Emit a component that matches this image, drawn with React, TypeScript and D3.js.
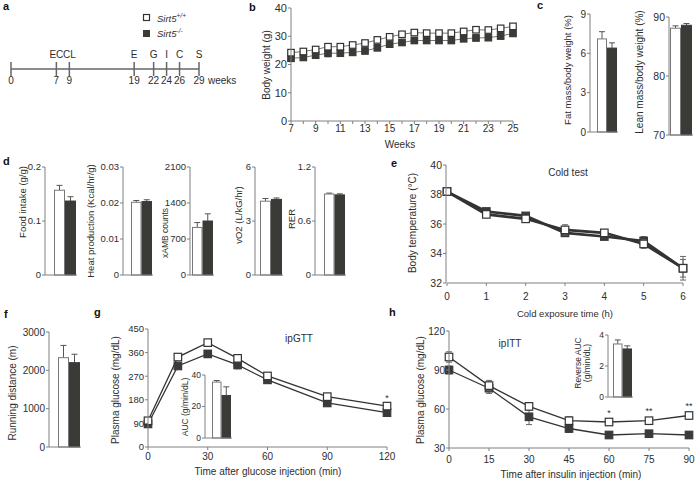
import React from 'react';
import * as d3 from 'd3';

// ---- data ----
const genotypes = ['Sirt5+/+', 'Sirt5-/-'];

const timelineWeeks = [0, 7, 9, 19, 22, 24, 26, 29];
const timelineEvents = ['', 'EC', 'CL', 'E', 'G', 'I', 'C', 'S'];

const bwWeeks = [7, 8, 9, 10, 11, 12, 13, 14, 15, 16, 17, 18, 19, 20, 21, 22, 23, 24, 25];
const bwWT = [24.2, 24.6, 25.3, 26.3, 26.3, 26.9, 27.6, 28.7, 29.8, 30.7, 31.3, 31.1, 31.1, 31.1, 31.7, 32.3, 32.2, 32.8, 33.5];
const bwWTErr = [0.9, 0.8, 0.9, 0.8, 0.9, 0.9, 0.8, 1.0, 0.9, 0.8, 0.9, 0.9, 0.8, 0.9, 0.8, 1.0, 0.8, 0.8, 0.8];
const bwKO = [22.2, 22.5, 23.3, 24.0, 24.0, 24.3, 24.8, 25.9, 27.2, 27.8, 28.5, 28.5, 28.5, 28.5, 29.1, 29.4, 29.5, 30.1, 31.0];
const bwKOErr = [1.1, 0.9, 1.0, 1.3, 0.9, 0.9, 1.0, 0.9, 0.8, 0.8, 0.9, 1.0, 0.9, 0.9, 0.9, 1.0, 0.9, 1.2, 0.8];

const fatMass = [7.1, 6.4];
const fatMassErr = [0.55, 0.4];
const leanMass = [88.1, 88.6];
const leanMassErr = [0.4, 0.3];

const foodIntake = [0.157, 0.137];
const foodIntakeErr = [0.009, 0.008];
const heatProduction = [0.0202, 0.0204];
const heatProductionErr = [0.0005, 0.0005];
const xambCounts = [925, 1050];
const xambCountsErr = [95, 140];
const vo2 = [4.1, 4.2];
const vo2Err = [0.15, 0.08];
const rer = [0.9, 0.89];
const rerErr = [0.01, 0.012];

const coldHours = [0, 1, 2, 3, 4, 5, 6];
const coldWT = [38.2, 36.65, 36.35, 35.6, 35.4, 34.65, 33.0];
const coldWTErr = [0.15, 0.2, 0.15, 0.35, 0.2, 0.3, 0.8];
const coldKO = [38.2, 36.85, 36.55, 35.4, 35.15, 34.85, 33.0];
const coldKOErr = [0.15, 0.2, 0.15, 0.2, 0.2, 0.3, 0.6];

const runningDistance = [2330, 2200];
const runningDistanceErr = [320, 220];

const gttTimes = [0, 15, 30, 45, 60, 90, 120];
const gttWT = [100, 343, 398, 338, 271, 192, 156];
const gttWTErr = [10, 8, 8, 12, 8, 10, 8];
const gttKO = [88, 309, 355, 313, 256, 168, 131];
const gttKOErr = [8, 8, 12, 15, 10, 10, 6];
const gttStars = ['', '', '', '', '', '', '*'];
const gttAUC = [35.5, 27];
const gttAUCErr = [1, 5.5];

const ittTimes = [0, 15, 30, 45, 60, 75, 90];
const ittWT = [100, 78, 62, 51, 50, 51, 55];
const ittWTErr = [4, 4, 3, 3, 2, 2.5, 2.5];
const ittKO = [90, 76, 54, 45, 40, 41, 40];
const ittKOErr = [3, 4, 6, 3, 2, 2, 2.5];
const ittStars = ['', '', '', '', '*', '**', '**'];
const ittRevAUC = [3.42, 3.1];
const ittRevAUCErr = [0.26, 0.2];

// ---- style ----
const FONT = '"Liberation Sans", Arial, Helvetica, sans-serif';
const AXIS = '#808080';
const DARK = '#3a3a36';
const TXT = '#2e2e2e';

function YAxis({ x, y, ticks, fontSize = 9.5 }: any) {
  const [y0, y1] = y.range();
  return (
    <g>
      <line x1={x} x2={x} y1={y0} y2={y1} stroke={AXIS} />
      {ticks.map((t: number, i: number) => (
        <g key={i}>
          <line x1={x - 3} x2={x} y1={y(t)} y2={y(t)} stroke={AXIS} />
          <text x={x - 4} y={y(t)} dy="0.35em" textAnchor="end" fontSize={fontSize}>{String(t)}</text>
        </g>
      ))}
    </g>
  );
}

function XAxis({ y, x, ticks, labels, fontSize = 9.5, labelY }: any) {
  const [x0, x1] = x.range();
  return (
    <g>
      <line x1={x0} x2={x1} y1={y} y2={y} stroke={AXIS} />
      {ticks.map((t: number, i: number) => (
        <line key={i} x1={x(t)} x2={x(t)} y1={y} y2={y + 3} stroke={AXIS} />
      ))}
      {labels.map((t: number, i: number) => (
        <text key={i} x={x(t)} y={labelY} textAnchor="middle" fontSize={fontSize}>{String(t)}</text>
      ))}
    </g>
  );
}

function VLabel({ x, y, text, fontSize = 9.5 }: any) {
  return (
    <text transform={`translate(${x},${y}) rotate(-90)`} textAnchor="middle" fontSize={fontSize}>{text}</text>
  );
}

function BarChart({ lay, values, errs, domain, ticks, label, tickSize = 9.5, labelSize = 9.5, label2 }: any) {
  const y = d3.scaleLinear().domain(domain).range([lay.bottom, lay.top]);
  const x = d3.scaleBand<string>().domain(genotypes).range([lay.axisX + lay.gap, lay.axisX + lay.gap + 2 * lay.barW]);
  const base = y(domain[0]);
  return (
    <g>
      {genotypes.map((g, i) => {
        const bx = x(g) as number;
        const cx = bx + x.bandwidth() / 2;
        const top = y(values[i]);
        const et = y(values[i] + errs[i]);
        return (
          <g key={g}>
            <line x1={cx} x2={cx} y1={top} y2={et} stroke="#555" />
            <line x1={cx - 3} x2={cx + 3} y1={et} y2={et} stroke="#555" />
            <rect x={bx + 0.5} y={top} width={x.bandwidth() - 1} height={base - top}
              fill={i ? DARK : '#fff'} stroke={i ? DARK : '#777'} />
          </g>
        );
      })}
      <line x1={lay.axisX} x2={lay.axisX + lay.gap + 2 * lay.barW + 1} y1={base} y2={base} stroke={AXIS} />
      <YAxis x={lay.axisX} y={y} ticks={ticks} fontSize={tickSize} />
      {label2 ? (
        <g>
          <VLabel x={lay.labelX} y={lay.labelY} text={label} fontSize={labelSize} />
          <VLabel x={lay.labelX + 9} y={lay.labelY} text={label2} fontSize={labelSize} />
        </g>
      ) : (
        <VLabel x={lay.labelX} y={lay.labelY} text={label} fontSize={labelSize} />
      )}
    </g>
  );
}

function Series({ x, y, xs, vals, errs, open, lineColor, lineWidth, size, errColor = '#666', drawLine = true, drawMarks = true }: any) {
  const line = d3.line<number>().x((_, i) => x(xs[i])).y((d) => y(d));
  return (
    <g>
      {drawLine && <path d={line(vals) || ''} fill="none" stroke={lineColor} strokeWidth={lineWidth} />}
      {drawMarks && vals.map((v: number, i: number) => {
        const cx = x(xs[i]);
        const hi = y(v + errs[i]);
        const lo = y(v - errs[i]);
        return (
          <g key={i}>
            <line x1={cx} x2={cx} y1={hi} y2={lo} stroke={errColor} />
            <line x1={cx - 3} x2={cx + 3} y1={hi} y2={hi} stroke={errColor} />
            <line x1={cx - 3} x2={cx + 3} y1={lo} y2={lo} stroke={errColor} />
            <rect x={cx - size / 2} y={y(v) - size / 2} width={size} height={size}
              fill={open ? '#fff' : DARK} stroke={open ? '#333' : DARK} strokeWidth={1.2} />
          </g>
        );
      })}
    </g>
  );
}

function LineChart({ x, y, xs, wt, wtErr, ko, koErr, lineColor, lineWidth, size }: any) {
  const common = { x, y, xs, lineColor, lineWidth, size };
  return (
    <g>
      <Series {...common} vals={ko} errs={koErr} open={false} drawMarks={false} />
      <Series {...common} vals={wt} errs={wtErr} open={true} drawMarks={false} />
      <Series {...common} vals={ko} errs={koErr} open={false} drawLine={false} />
      <Series {...common} vals={wt} errs={wtErr} open={true} drawLine={false} />
    </g>
  );
}

// ---- layout ----
const cFatLay = { axisX: 590, top: 14, bottom: 132, gap: 7, barW: 10, labelX: 571, labelY: 70 };
const cLeanLay = { axisX: 669, top: 17, bottom: 135, gap: 1, barW: 11, labelX: 643, labelY: 72 };
const dLays = [
  { axisX: 45, top: 167, bottom: 275, gap: 9, barW: 11, labelX: 26, labelY: 202 },
  { axisX: 123, top: 167, bottom: 275, gap: 8, barW: 10.5, labelX: 94, labelY: 221 },
  { axisX: 190, top: 167, bottom: 275, gap: 2, barW: 10.5, labelX: 168, labelY: 233 },
  { axisX: 255, top: 167, bottom: 275, gap: 5, barW: 11, labelX: 242, labelY: 215 },
  { axisX: 315, top: 167, bottom: 275, gap: 9, barW: 10.5, labelX: 295, labelY: 219 },
];
const fLay = { axisX: 49, top: 332, bottom: 447, gap: 9, barW: 11, labelX: 16, labelY: 393 };
const gInsetLay = { axisX: 205, top: 375, bottom: 438, gap: 7, barW: 9.5, labelX: 188, labelY: 407 };
const hInsetLay = { axisX: 608, top: 335, bottom: 397, gap: 5, barW: 9.5, labelX: 581, labelY: 363 };

export default function App() {
  const tl = d3.scaleLinear().domain([0, 29]).range([11, 199]);

  const bx = d3.scaleLinear().domain([7, 25]).range([291, 513]);
  const by = d3.scaleLinear().domain([0, 40]).range([121, 8]);

  const ex = d3.scaleLinear().domain([0, 6]).range([447, 683]);
  const ey = d3.scaleLinear().domain([32, 40]).range([283, 165]);

  const gx = d3.scaleLinear().domain([0, 120]).range([148, 387]);
  const gy = d3.scaleLinear().domain([0, 450]).range([447, 329]);

  const hx = d3.scaleLinear().domain([0, 90]).range([449, 689]);
  const hy = d3.scaleLinear().domain([30, 120]).range([448, 331]);

  const letter = (t: string, x: number, y: number) => (
    <text x={x} y={y} fontSize={11} fontWeight="bold" fill="#111">{t}</text>
  );

  return (
    <svg width={698} height={484} style={{ position: 'absolute', left: 0, top: 0, background: '#fff' }}
      fontFamily={FONT} fill={TXT}>
      {/* a */}
      {letter('a', 3, 10)}
      <rect x={143.5} y={14.5} width={6} height={6} fill="#fff" stroke="#333" strokeWidth={1.2} />
      <text x={157} y={21.5} fontSize={9.5} fontStyle="italic">Sirt5<tspan fontSize={6.5} dy={-4}>+/+</tspan></text>
      <rect x={143} y={30} width={7} height={7} fill={DARK} />
      <text x={157} y={36.5} fontSize={9.5} fontStyle="italic">Sirt5<tspan fontSize={6.5} dy={-4}>-/-</tspan></text>
      <line x1={tl(0)} x2={tl(29)} y1={69} y2={69} stroke="#666" strokeWidth={1.5} />
      {timelineWeeks.map((w, i) => (
        <g key={w}>
          <line x1={tl(w)} x2={tl(w)} y1={62} y2={76} stroke="#666" strokeWidth={1.5} />
          <text x={tl(w)} y={58} textAnchor="middle" fontSize={10}>{timelineEvents[i]}</text>
          <text x={tl(w)} y={84} textAnchor="middle" fontSize={10}>{String(w)}</text>
        </g>
      ))}
      <text x={tl(29) + 9} y={84} fontSize={10}>weeks</text>

      {/* b */}
      {letter('b', 249, 11)}
      <LineChart x={bx} y={by} xs={bwWeeks} wt={bwWT} wtErr={bwWTErr} ko={bwKO} koErr={bwKOErr}
        lineColor="#666" lineWidth={0.9} size={6.5} />
      <YAxis x={291} y={by} ticks={[0, 10, 20, 30, 40]} fontSize={11} />
      <XAxis y={121} x={bx} ticks={bwWeeks} labels={bwWeeks.filter((w) => w % 2 === 1)} labelY={132} fontSize={10} />
      <VLabel x={270} y={65} text="Body weight (g)" fontSize={10} />
      <text x={400} y={148} textAnchor="middle" fontSize={10}>Weeks</text>

      {/* c */}
      {letter('c', 537, 9)}
      <BarChart lay={cFatLay} values={fatMass} errs={fatMassErr} domain={[0, 9]} ticks={[0, 3, 6, 9]}
        label="Fat mass/body weight (%)" tickSize={10} />
      <BarChart lay={cLeanLay} values={leanMass} errs={leanMassErr} domain={[70, 90]} ticks={[70, 80, 90]}
        label="Lean mass/body weight (%)" tickSize={10.5} labelSize={10} />

      {/* d */}
      {letter('d', 3, 165)}
      <BarChart lay={dLays[0]} values={foodIntake} errs={foodIntakeErr} domain={[0, 0.2]} ticks={[0, 0.1, 0.2]}
        label="Food intake (g/g)" />
      <BarChart lay={dLays[1]} values={heatProduction} errs={heatProductionErr} domain={[0, 0.03]}
        ticks={[0, 0.01, 0.02, 0.03]} label="Heat production (Kcal/hr/g)" />
      <BarChart lay={dLays[2]} values={xambCounts} errs={xambCountsErr} domain={[0, 2100]}
        ticks={[0, 700, 1400, 2100]} label="xAMB counts" labelSize={8.5} />
      <BarChart lay={dLays[3]} values={vo2} errs={vo2Err} domain={[0, 6]} ticks={[0, 3, 6]}
        label="vO2 (L/kG/hr)" />
      <BarChart lay={dLays[4]} values={rer} errs={rerErr} domain={[0, 1.2]} ticks={[0, 0.6, 1.2]}
        label="RER" />

      {/* e */}
      {letter('e', 391, 167)}
      <LineChart x={ex} y={ey} xs={coldHours} wt={coldWT} wtErr={coldWTErr} ko={coldKO} koErr={coldKOErr}
        lineColor="#333" lineWidth={2.6} size={7.5} />
      <YAxis x={446} y={ey} ticks={[32, 34, 36, 38, 40]} fontSize={10.5} />
      <XAxis y={283} x={ex} ticks={coldHours} labels={coldHours} labelY={300} fontSize={10} />
      <VLabel x={416} y={223} text="Body temperature (°C)" fontSize={10} />
      <text x={568} y={176} textAnchor="middle" fontSize={10}>Cold test</text>
      <text x={565} y={317} textAnchor="middle" fontSize={9.5}>Cold exposure time (h)</text>

      {/* f */}
      {letter('f', 4, 318)}
      <BarChart lay={fLay} values={runningDistance} errs={runningDistanceErr} domain={[0, 3000]}
        ticks={[0, 1000, 2000, 3000]} label="Running distance (m)" tickSize={10} labelSize={10} />

      {/* g */}
      {letter('g', 94, 316)}
      <LineChart x={gx} y={gy} xs={gttTimes} wt={gttWT} wtErr={gttWTErr} ko={gttKO} koErr={gttKOErr}
        lineColor="#333" lineWidth={1.3} size={7.5} />
      <YAxis x={148} y={gy} ticks={[0, 90, 180, 270, 360, 450]} fontSize={9.5} />
      <XAxis y={447} x={gx} ticks={[0, 30, 60, 90, 120]} labels={[0, 30, 60, 90, 120]} labelY={460} fontSize={10} />
      <VLabel x={119} y={390} text="Plasma glucose (mg/dL)" fontSize={10} />
      {gttStars.map((s, i) => s && (
        <text key={i} x={gx(gttTimes[i])} y={gy(gttWT[i] + gttWTErr[i]) - 3} textAnchor="middle" fontSize={9}>{s}</text>
      ))}
      <text x={299} y={342} textAnchor="middle" fontSize={10}>ipGTT</text>
      <text x={268} y={475} textAnchor="middle" fontSize={10}>Time after glucose injection (min)</text>
      <BarChart lay={gInsetLay} values={gttAUC} errs={gttAUCErr} domain={[0, 40]} ticks={[0, 20, 40]}
        label="AUC (g/min/dL)" tickSize={8.5} labelSize={8.5} />

      {/* h */}
      {letter('h', 389, 316)}
      <LineChart x={hx} y={hy} xs={ittTimes} wt={ittWT} wtErr={ittWTErr} ko={ittKO} koErr={ittKOErr}
        lineColor="#333" lineWidth={1.3} size={7.5} />
      <YAxis x={449} y={hy} ticks={[30, 60, 90, 120]} fontSize={10} />
      <XAxis y={448} x={hx} ticks={ittTimes} labels={ittTimes} labelY={463} fontSize={10} />
      <VLabel x={424} y={390} text="Plasma glucose (mg/dL)" fontSize={10} />
      {ittStars.map((s, i) => s && (
        <text key={i} x={hx(ittTimes[i])} y={hy(ittWT[i] + ittWTErr[i]) - 3} textAnchor="middle" fontSize={9}>{s}</text>
      ))}
      <text x={510} y={347} textAnchor="middle" fontSize={10}>ipITT</text>
      <text x={571} y={478} textAnchor="middle" fontSize={10}>Time after insulin injection (min)</text>
      <BarChart lay={hInsetLay} values={ittRevAUC} errs={ittRevAUCErr} domain={[0, 4]} ticks={[0, 2, 4]}
        label="Reverse AUC" label2="(g/min/dL)" tickSize={8.5} labelSize={8.5} />
    </svg>
  );
}
